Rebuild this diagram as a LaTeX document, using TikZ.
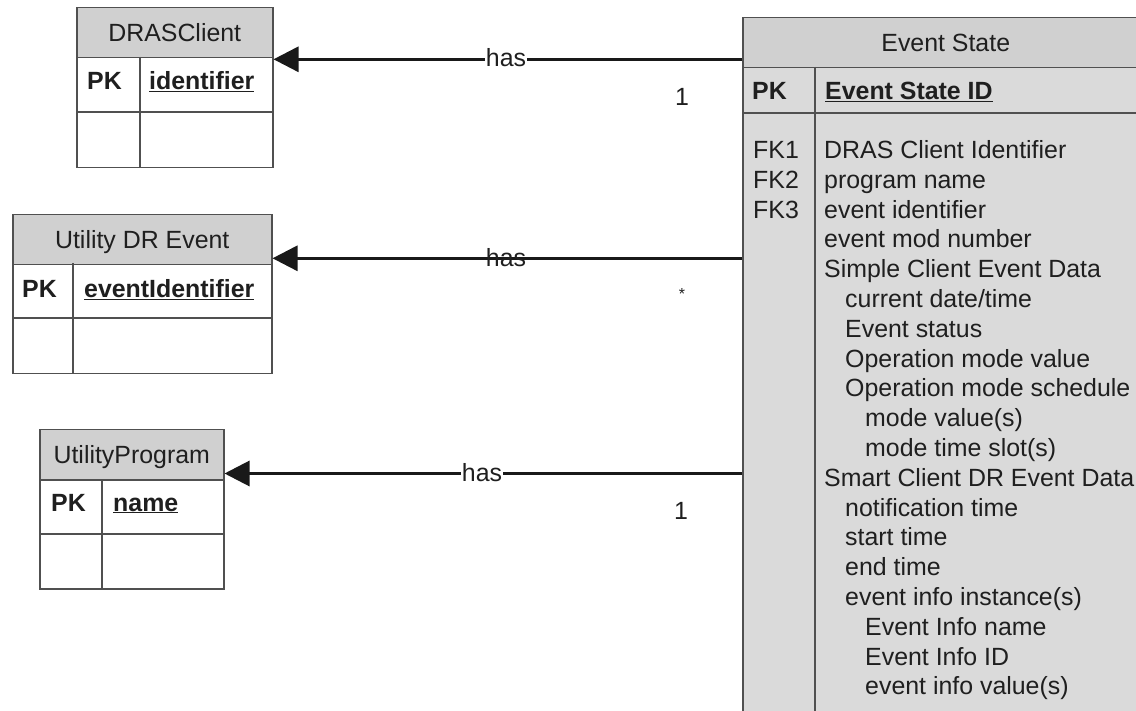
\documentclass[tikz,border=0pt]{standalone}
\usepackage{fontspec}
\setmainfont{Liberation Sans}
\usetikzlibrary{arrows.meta}
\definecolor{hdrgray}{HTML}{D0D0D0}
\definecolor{bodygray}{HTML}{DADADA}
\definecolor{bordergray}{HTML}{505050}
\begin{document}
\begin{tikzpicture}[x=1pt,y=-1pt,
  every node/.style={font=\fontsize{24.9}{29}\selectfont, inner sep=0pt, text=black!88},
  tbl/.style={draw=bordergray, line width=1.5pt},
  hdr/.style={tbl, fill=hdrgray, anchor=north west, minimum height=50pt, text height=17.8pt, text depth=0pt},
  bodybox/.style={tbl, anchor=north west},
  txt/.style={anchor=base west},
  conn/.style={line width=3pt, draw=black!90, -{Triangle[length=25pt,width=25pt]}},
  lbl/.style={anchor=base, fill=white, inner xsep=1pt, inner ysep=0pt}]
\useasboundingbox (0,0) rectangle (1136,711);
\clip (0,0) rectangle (1136,711);

% ---------- DRASClient ----------
\node[bodybox, fill=white, minimum width=196pt, minimum height=110pt] (dras) at (76,57) {};
\node[hdr, minimum width=196pt] (drasH) at (76,7) {DRASClient};
\draw[tbl] (76,112) -- (272,112);
\draw[tbl] (140,57) -- (140,167);
\node[txt] (drasPK) at (87,89.5) {\textbf{PK}};
\node[txt] (drasID) at (149,89.5) {\textbf{\underline{identifier}}};

% ---------- Utility DR Event ----------
\node[bodybox, fill=white, minimum width=259pt, minimum height=110pt] (udr) at (12,263) {};
\node[hdr, minimum width=259pt] (udrH) at (12,214) {Utility DR Event};
\draw[tbl] (12,318) -- (271,318);
\draw[tbl] (73,263) -- (73,373);
\node[txt] (udrPK) at (22,297.5) {\textbf{PK}};
\node[txt] (udrID) at (84,297.5) {\textbf{\underline{eventIdentifier}}};

% ---------- UtilityProgram ----------
\node[bodybox, fill=white, minimum width=184pt, minimum height=109pt] (up) at (39,479) {};
\node[hdr, minimum width=184pt] (upH) at (39,429) {UtilityProgram};
\draw[tbl] (39,534) -- (223,534);
\draw[tbl] (102,479) -- (102,588);
\node[txt] (upPK) at (51,511) {\textbf{PK}};
\node[txt] (upID) at (113,511) {\textbf{\underline{name}}};

% ---------- Event State ----------
\node[bodybox, fill=bodygray, minimum width=406pt, minimum height=760pt] (es) at (742,67) {};
\node[hdr, minimum width=406pt] (esH) at (742,17) {Event State};
\draw[tbl] (742,113) -- (1148,113);
\draw[tbl] (815,67) -- (815,800);
\node[txt] (esPK) at (752,100) {\textbf{PK}};
\node[txt] (esID) at (825,100) {\textbf{\underline{Event State ID}}};
\node[txt] (fk1) at (753,158.5) {FK1};
\node[txt] (fk2) at (753,188.3) {FK2};
\node[txt] (fk3) at (753,218.1) {FK3};
\node[txt] (a1)  at (824,158.5) {DRAS Client Identifier};
\node[txt] (a2)  at (824,188.3) {program name};
\node[txt] (a3)  at (824,218.1) {event identifier};
\node[txt] (a4)  at (824,247.9) {event mod number};
\node[txt] (a5)  at (824,277.7) {Simple Client Event Data};
\node[txt] (a6)  at (845,307.5) {current date/time};
\node[txt] (a7)  at (845,337.3) {Event status};
\node[txt] (a8)  at (845,367.1) {Operation mode value};
\node[txt] (a9)  at (845,396.9) {Operation mode schedule};
\node[txt] (a10) at (865,426.7) {mode value(s)};
\node[txt] (a11) at (865,456.5) {mode time slot(s)};
\node[txt] (a12) at (824,486.3) {Smart Client DR Event Data};
\node[txt] (a13) at (845,516.1) {notification time};
\node[txt] (a14) at (845,545.9) {start time};
\node[txt] (a15) at (845,575.7) {end time};
\node[txt] (a16) at (845,605.5) {event info instance(s)};
\node[txt] (a17) at (865,635.3) {Event Info name};
\node[txt] (a18) at (865,665.1) {Event Info ID};
\node[txt] (a19) at (865,694.9) {event info value(s)};

% ---------- connectors ----------
\coordinate (y1) at (0,59.3);
\coordinate (y2) at (0,258.3);
\coordinate (y3) at (0,473.5);
\draw[conn] (es.west |- y1) -- (dras.east |- y1);
\draw[conn] (es.west |- y2) -- (udr.east |- y2);
\draw[conn] (es.west |- y3) -- (up.east |- y3);

\node[lbl] (has1) at (506,66.5) {has};
\node[anchor=base] (has2) at (506,266.5) {has};
\node[lbl] (has3) at (482,481.5) {has};

\node[anchor=base] (m1) at (682,106) {1};
\node[anchor=center, font=\fontsize{16}{18}\selectfont] (m2) at (682,294) {*};
\node[anchor=base] (m3) at (681,519) {1};
\end{tikzpicture}
\end{document}
